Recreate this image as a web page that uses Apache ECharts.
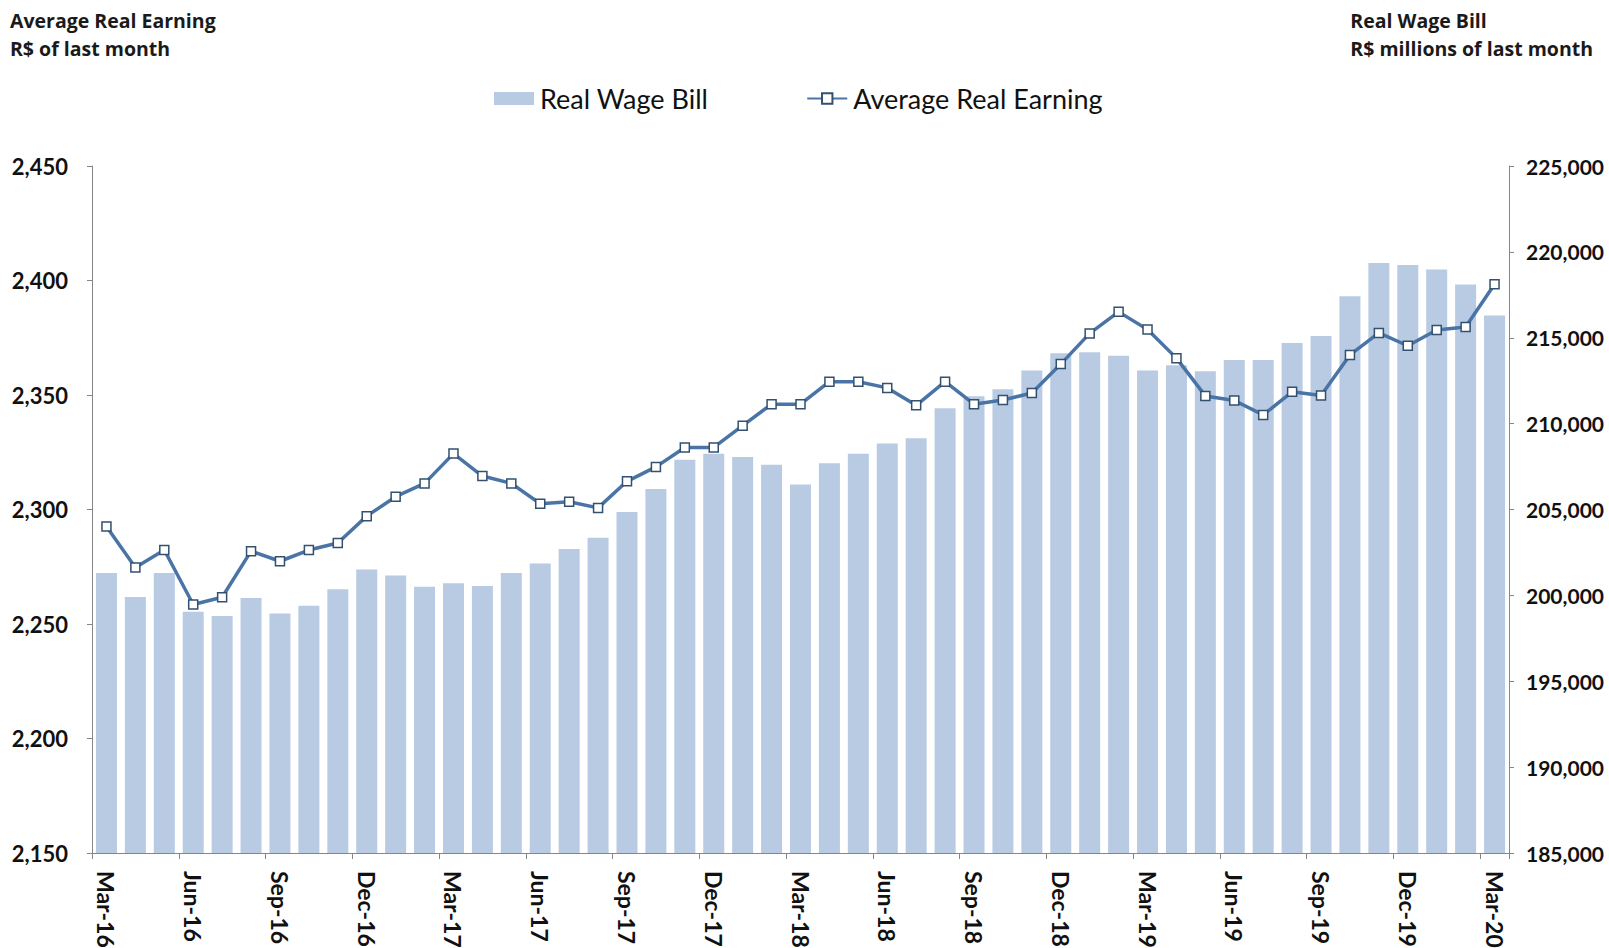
<!DOCTYPE html>
<html>
<head>
<meta charset="utf-8">
<title>Real Wage Bill and Average Real Earning</title>
<script src="https://cdn.jsdelivr.net/npm/echarts@6/dist/echarts.min.js"></script>
<style>
  html, body { margin: 0; padding: 0; background: #ffffff; }
  #chart { width: 1609px; height: 948px; }
</style>
</head>
<body>
<div id="chart"></div>
<script>
// Monthly periods, Mar-16 to Mar-20
const months = [
  'Mar-16','Apr-16','May-16','Jun-16','Jul-16','Aug-16','Sep-16','Oct-16','Nov-16','Dec-16',
  'Jan-17','Feb-17','Mar-17','Apr-17','May-17','Jun-17','Jul-17','Aug-17','Sep-17','Oct-17','Nov-17','Dec-17',
  'Jan-18','Feb-18','Mar-18','Apr-18','May-18','Jun-18','Jul-18','Aug-18','Sep-18','Oct-18','Nov-18','Dec-18',
  'Jan-19','Feb-19','Mar-19','Apr-19','May-19','Jun-19','Jul-19','Aug-19','Sep-19','Oct-19','Nov-19','Dec-19',
  'Jan-20','Feb-20','Mar-20'
];

// Real Wage Bill, R$ millions of last month (right axis)
const realWageBill = [
  201300, 199900, 201300, 199050, 198800, 199850, 198950, 199400, 200350, 201500,
  201150, 200500, 200700, 200550, 201300, 201850, 202700, 203350, 204850, 206200, 207900, 208250,
  208050, 207600, 206450, 207700, 208250, 208850, 209150, 210900, 211600, 212000, 213100, 214100,
  214150, 213950, 213100, 213400, 213050, 213700, 213700, 214700, 215100, 217420, 219350, 219240,
  218980, 218100, 216300
];

// Average Real Earning, R$ of last month (left axis)
const avgRealEarning = [
  2292.6, 2274.7, 2282.3, 2258.5, 2261.7, 2281.8, 2277.4, 2282.3, 2285.4, 2297.1,
  2305.6, 2311.4, 2324.4, 2314.6, 2311.4, 2302.5, 2303.4, 2300.7, 2312.3, 2318.6, 2327.1, 2327.1,
  2336.6, 2346.0, 2346.0, 2355.8, 2355.8, 2353.1, 2345.5, 2355.8, 2346.0, 2347.8, 2350.9, 2363.5,
  2376.9, 2386.3, 2378.6, 2366.1, 2349.6, 2347.6, 2341.3, 2351.4, 2349.8, 2367.5,
  2377.1, 2371.5, 2378.4, 2379.7, 2398.4
];

// Axis ranges
const leftAxisRange = { min: 2150, max: 2450, step: 50 };
const rightAxisRange = { min: 185000, max: 225000, step: 5000 };

const FONT = 'Lato, "Open Sans", sans-serif';
const TITLE_FONT = '"Open Sans", Lato, sans-serif';
const AXIS_GREY = '#868686';
const BAR_BLUE = '#b8cbe3';
const LINE_BLUE = '#4a74a6';
const withComma = v => Math.round(v).toString().replace(/\B(?=(\d{3})+(?!\d))/g, ',');

const chart = echarts.init(document.getElementById('chart'), null, { renderer: 'svg' });

chart.setOption({
  backgroundColor: '#ffffff',
  animation: false,
  textStyle: { fontFamily: FONT },
  graphic: [
    {
      type: 'text', left: 10, top: 6,
      style: {
        text: 'Average Real Earning\nR$ of last month',
        font: 'bold 19.5px ' + TITLE_FONT, fill: '#1a1a1a', lineHeight: 28
      }
    },
    {
      type: 'text', right: 16, top: 6,
      style: {
        text: 'Real Wage Bill\nR$ millions of last month',
        font: 'bold 19.5px ' + TITLE_FONT, fill: '#1a1a1a', lineHeight: 28, align: 'right'
      }
    }
  ],
  legend: {
    left: 489,
    top: 80,
    itemWidth: 40,
    itemHeight: 13,
    itemGap: 98,
    textStyle: { fontFamily: FONT, fontSize: 27, color: '#111111', padding: [0, 0, 0, 1] },
    data: [
      { name: 'Real Wage Bill', icon: 'rect' },
      { name: 'Average Real Earning' }
    ]
  },
  grid: {
    left: 92, right: 100, top: 166, bottom: 95,
    containLabel: false,
    outerBoundsMode: 'none'
  },
  xAxis: {
    type: 'category',
    data: months,
    boundaryGap: true,
    axisLine: { show: true, lineStyle: { color: AXIS_GREY, width: 1 } },
    axisTick: { show: true, interval: 2, length: 6, lineStyle: { color: AXIS_GREY } },
    axisLabel: {
      interval: 2, rotate: -90, margin: 18,
      fontFamily: FONT, fontSize: 23, fontWeight: 'bold', color: '#111111'
    },
    splitLine: { show: false }
  },
  yAxis: [
    {
      type: 'value', position: 'left',
      min: leftAxisRange.min, max: leftAxisRange.max, interval: leftAxisRange.step,
      axisLine: { show: true, lineStyle: { color: AXIS_GREY, width: 1 } },
      axisTick: { show: true, length: 5, lineStyle: { color: AXIS_GREY } },
      axisLabel: {
        margin: 24, formatter: withComma,
        fontFamily: FONT, fontSize: 22, fontWeight: 'bold', color: '#111111'
      },
      splitLine: { show: false }
    },
    {
      type: 'value', position: 'right',
      min: rightAxisRange.min, max: rightAxisRange.max, interval: rightAxisRange.step,
      axisLine: { show: true, lineStyle: { color: AXIS_GREY, width: 1 } },
      axisTick: { show: true, length: 5, lineStyle: { color: AXIS_GREY } },
      axisLabel: {
        margin: 17, formatter: withComma,
        fontFamily: FONT, fontSize: 21, fontWeight: 'bold', color: '#111111'
      },
      splitLine: { show: false }
    }
  ],
  series: [
    {
      name: 'Real Wage Bill',
      type: 'bar',
      yAxisIndex: 1,
      data: realWageBill,
      barWidth: 21,
      itemStyle: { color: BAR_BLUE },
      z: 1
    },
    {
      name: 'Average Real Earning',
      type: 'line',
      yAxisIndex: 0,
      data: avgRealEarning,
      symbol: 'rect',
      symbolSize: 9,
      showAllSymbol: true,
      lineStyle: { color: LINE_BLUE, width: 3.5 },
      itemStyle: { color: '#ffffff', borderColor: '#33506f', borderWidth: 1.5 },
      z: 3
    }
  ]
});
</script>
</body>
</html>
